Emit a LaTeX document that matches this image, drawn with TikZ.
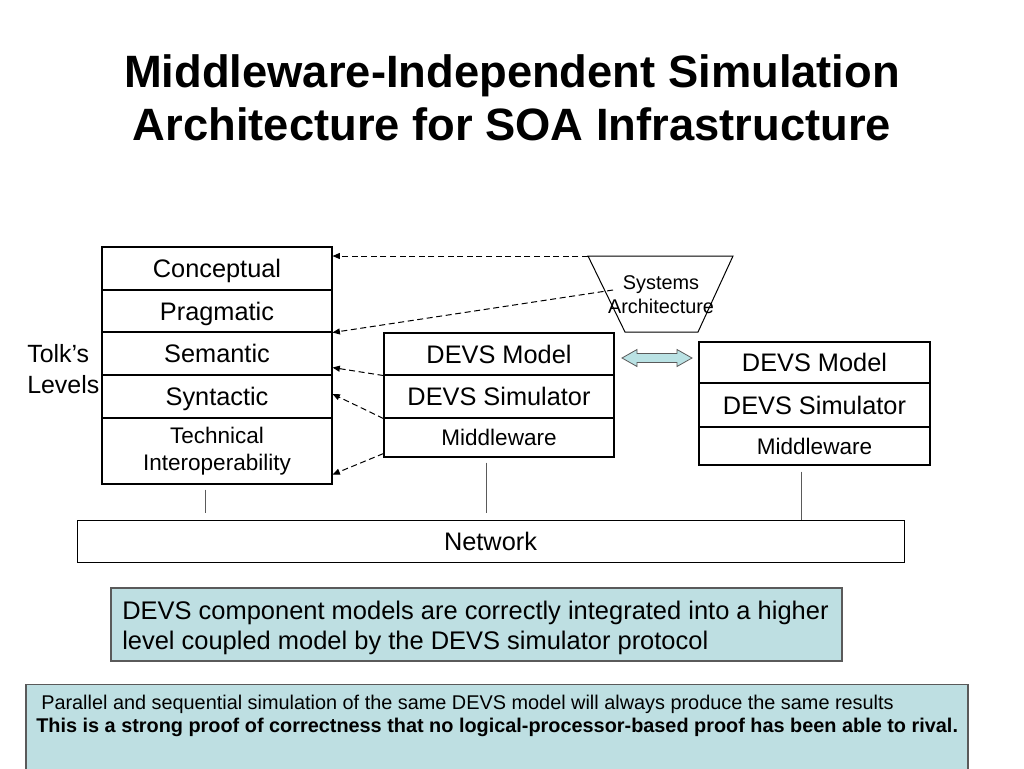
\documentclass[tikz,border=0pt]{standalone}
\usepackage{fontspec}
\setmainfont{Liberation Sans}
\usetikzlibrary{arrows.meta}
\definecolor{boxblue}{RGB}{190,223,226}
\definecolor{arrowblue}{RGB}{186,226,228}
\definecolor{edgegray}{RGB}{90,90,90}
\begin{document}
\begin{tikzpicture}[x=0.75pt,y=-0.75pt,
  cell/.style={draw=black, line width=0.8pt, fill=white, inner sep=0pt, align=center},
  f19/.style={font=\fontsize{19}{22}\selectfont, text height=13.6pt, text depth=0pt},
  f17/.style={font=\fontsize{16.9}{20}\selectfont, text height=12.1pt, text depth=0pt},
  dasharrow/.style={dashed, dash pattern=on 4.5pt off 2.7pt, line width=0.75pt, -{Triangle[length=5.5pt,width=4.5pt]}},
  vline/.style={draw=edgegray, line width=0.75pt},
  bluebox/.style={draw=edgegray, line width=0.8pt, fill=boxblue, inner sep=0pt}]
\useasboundingbox (0,0) rectangle (1024,768);
\fill[white] (0,0) rectangle (1024,768);

% title
\node[anchor=base, font=\fontsize{34}{40}\selectfont\bfseries] (t1) at (512,87) {Middleware-Independent Simulation};
\node[anchor=base, font=\fontsize{34}{40}\selectfont\bfseries] (t2) at (512,140) {Architecture for SOA Infrastructure};

% Tolk's levels stack
\node[cell, f19, minimum width=172.5pt, minimum height=32.25pt] (conc) at (217,268.5) {Conceptual};
\node[cell, f19, minimum width=172.5pt, minimum height=31.5pt] (prag) at (217,311) {Pragmatic};
\node[cell, f19, minimum width=172.5pt, minimum height=32.25pt] (sem) at (217,353.5) {Semantic};
\node[cell, f19, minimum width=172.5pt, minimum height=32.25pt] (syn) at (217,396.5) {Syntactic};
\node[cell, font=\fontsize{16.9}{20}\selectfont, minimum width=172.5pt, minimum height=49.5pt] (tech) at (217,451) {Technical\\Interoperability};

\node[anchor=west, align=left, inner sep=0pt, font=\fontsize{18.7}{23.25}\selectfont] (tolk) at (27,369.5) {Tolk’s\\Levels};

% middle stack
\node[cell, f19, minimum width=172.5pt, minimum height=31.5pt] (dm) at (499,354) {DEVS Model};
\node[cell, f19, minimum width=172.5pt, minimum height=32.25pt] (ds) at (499,396.5) {DEVS Simulator};
\node[cell, f17, minimum width=172.5pt, minimum height=29.25pt] (mw) at (499,437.5) {Middleware};

% right stack
\node[cell, f19, minimum width=173.25pt, minimum height=30.75pt] (rdm) at (814.5,362.5) {DEVS Model};
\node[cell, f19, minimum width=173.25pt, minimum height=33pt] (rds) at (814.5,405) {DEVS Simulator};
\node[cell, f17, minimum width=173.25pt, minimum height=28.5pt] (rmw) at (814.5,446) {Middleware};

% systems architecture trapezoid
\coordinate (ta) at (588,256);
\coordinate (tb) at (733,256);
\coordinate (tc) at (698,332);
\coordinate (td) at (625,332);
\draw[line width=0.75pt] (ta) -- (tb) -- (tc) -- (td) -- cycle;
\coordinate (sa) at (613,290);

% dashed arrows
\draw[dasharrow] (ta) -- (ta -| conc.east);
\draw[dasharrow] (sa) -- (prag.south east);
\node[align=center, inner sep=0pt, font=\fontsize{14.9}{18}\selectfont] (sys) at (661,295) {Systems\\Architecture};
\draw[dasharrow] (dm.south west) -- ([yshift=6pt]sem.south east);
\draw[dasharrow] (ds.south west) -- ([yshift=1.9pt]syn.east);
\draw[dasharrow] ([yshift=3pt]mw.south west) -- ([yshift=7.5pt]tech.south east);

% double arrow between stacks
\draw[draw=edgegray, line width=0.6pt, fill=arrowblue]
  (622,358) -- (637,349.5) -- (637,353.5) -- (677,353.5) -- (677,349.5) -- (692,358)
  -- (677,366.5) -- (677,362.5) -- (637,362.5) -- (637,366.5) -- cycle;

% network
\node[cell, f19, line width=0.75pt, minimum width=620.25pt, minimum height=31.5pt] (net) at (490.5,541) {Network};
\draw[vline] ([xshift=-9pt,yshift=-3.75pt]tech.south) -- ++(0,23);
\draw[vline] ([xshift=-9.75pt,yshift=-3.75pt]mw.south) -- ++(0,50);
\draw[vline] ([xshift=-9.4pt,yshift=-4.5pt]rmw.south) -- ([xshift=-9.4pt]rmw.south |- net.north);

% DEVS statement box
\node[bluebox, minimum width=548.25pt, minimum height=54.75pt] (stmt) at (476.5,624.5) {};
\node[anchor=west, align=left, inner sep=0pt, font=\fontsize{19.1}{22.5}\selectfont] (stmttxt) at (122,628)
  {DEVS component models are correctly integrated into a higher\\level coupled model by the DEVS simulator protocol};

% bottom box
\node[bluebox, minimum width=706.5pt, minimum height=65pt] (bot) at (497,728) {};
\node[anchor=north west, align=left, inner sep=0pt, font=\fontsize{14.9}{17.3}\selectfont] (bottxt) at (36,695)
  {\hspace{3.75pt}Parallel and sequential simulation of the same DEVS model will always produce the same results\\
   \textbf{This is a strong proof of correctness that no logical-processor-based proof has been able to rival.}};
\end{tikzpicture}
\end{document}
